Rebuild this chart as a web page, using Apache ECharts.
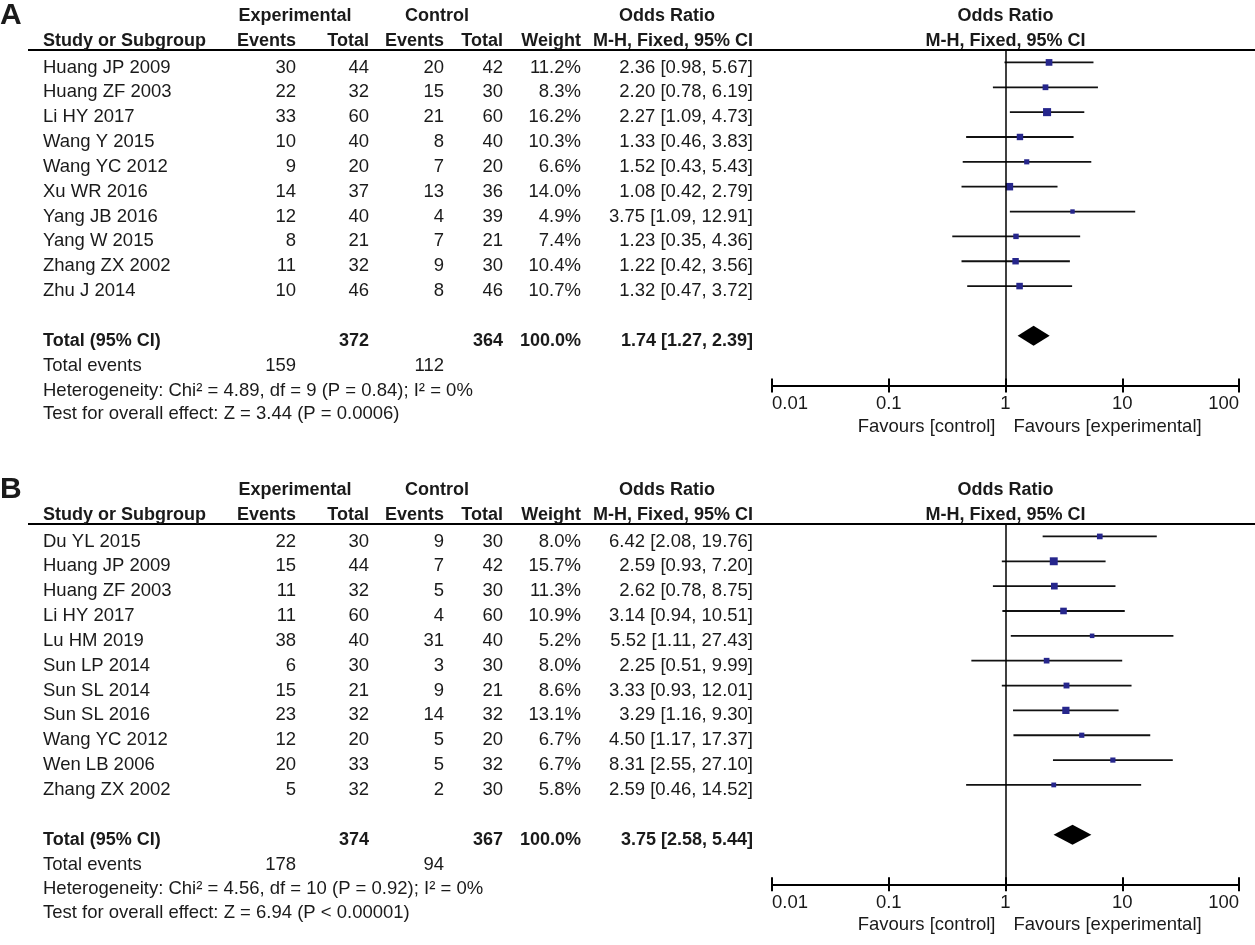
<!DOCTYPE html>
<html lang="en">
<head>
<meta charset="UTF-8">
<title>Forest plot</title>
<script src="https://cdn.jsdelivr.net/npm/echarts@6/dist/echarts.min.js"></script>
<style>html, body { margin: 0; padding: 0; background: #fff; }</style>
</head>
<body>
<div id="main" style="width:1255px;height:945px;"></div>
<script>
// ---- panel A data ----
var studiesA = ['Huang JP 2009', 'Huang ZF 2003', 'Li HY 2017', 'Wang Y 2015', 'Wang YC 2012',
    'Xu WR 2016', 'Yang JB 2016', 'Yang W 2015', 'Zhang ZX 2002', 'Zhu J 2014'];
var expEventsA = [30, 22, 33, 10, 9, 14, 12, 8, 11, 10];
var expTotalA = [44, 32, 60, 40, 20, 37, 40, 21, 32, 46];
var ctlEventsA = [20, 15, 21, 8, 7, 13, 4, 7, 9, 8];
var ctlTotalA = [42, 30, 60, 40, 20, 36, 39, 21, 30, 46];
var weightA = [11.2, 8.3, 16.2, 10.3, 6.6, 14.0, 4.9, 7.4, 10.4, 10.7];
var orA = [2.36, 2.20, 2.27, 1.33, 1.52, 1.08, 3.75, 1.23, 1.22, 1.32];
var lowA = [0.98, 0.78, 1.09, 0.46, 0.43, 0.42, 1.09, 0.35, 0.42, 0.47];
var highA = [5.67, 6.19, 4.73, 3.83, 5.43, 2.79, 12.91, 4.36, 3.56, 3.72];
var pooledA = [1.74, 1.27, 2.39];
var totalNA = [372, 364];
var totalEventsA = [159, 112];
var hetA = 'Heterogeneity: Chi\u00b2 = 4.89, df = 9 (P = 0.84); I\u00b2 = 0%';
var testA = 'Test for overall effect: Z = 3.44 (P = 0.0006)';

// ---- panel B data ----
var studiesB = ['Du YL 2015', 'Huang JP 2009', 'Huang ZF 2003', 'Li HY 2017', 'Lu HM 2019', 'Sun LP 2014',
    'Sun SL 2014', 'Sun SL 2016', 'Wang YC 2012', 'Wen LB 2006', 'Zhang ZX 2002'];
var expEventsB = [22, 15, 11, 11, 38, 6, 15, 23, 12, 20, 5];
var expTotalB = [30, 44, 32, 60, 40, 30, 21, 32, 20, 33, 32];
var ctlEventsB = [9, 7, 5, 4, 31, 3, 9, 14, 5, 5, 2];
var ctlTotalB = [30, 42, 30, 60, 40, 30, 21, 32, 20, 32, 30];
var weightB = [8.0, 15.7, 11.3, 10.9, 5.2, 8.0, 8.6, 13.1, 6.7, 6.7, 5.8];
var orB = [6.42, 2.59, 2.62, 3.14, 5.52, 2.25, 3.33, 3.29, 4.50, 8.31, 2.59];
var lowB = [2.08, 0.93, 0.78, 0.94, 1.11, 0.51, 0.93, 1.16, 1.17, 2.55, 0.46];
var highB = [19.76, 7.20, 8.75, 10.51, 27.43, 9.99, 12.01, 9.30, 17.37, 27.10, 14.52];
var pooledB = [3.75, 2.58, 5.44];
var totalNB = [374, 367];
var totalEventsB = [178, 94];
var hetB = 'Heterogeneity: Chi\u00b2 = 4.56, df = 10 (P = 0.92); I\u00b2 = 0%';
var testB = 'Test for overall effect: Z = 6.94 (P < 0.00001)';

// ---- layout ----
var FONT = "'Liberation Sans', Arial, sans-serif";
var INK = '#1a1a1a';
var ROWH = 24.85;
var COL = { name: 43, expEv: 296, expTot: 369, ctlEv: 444, ctlTot: 503, weight: 581, ci: 753 };

function fmtCI(o, l, h) {
    return o.toFixed(2) + ' [' + l.toFixed(2) + ', ' + h.toFixed(2) + ']';
}

function tableRows(p) {
    var n = p.studies.length;
    var rows = [];
    rows.push({ row: -2, dy: 3, cells: [
        { t: p.label, x: 0, a: 'left', b: true, s: 30 },
        { t: 'Experimental', x: 295, a: 'center', b: true },
        { t: 'Control', x: 437, a: 'center', b: true },
        { t: 'Odds Ratio', x: 667, a: 'center', b: true },
        { t: 'Odds Ratio', x: 'null', a: 'center', b: true }
    ] });
    rows.push({ row: -1, dy: 3, cells: [
        { t: 'Study or Subgroup', x: COL.name, a: 'left', b: true },
        { t: 'Events', x: COL.expEv, a: 'right', b: true },
        { t: 'Total', x: COL.expTot, a: 'right', b: true },
        { t: 'Events', x: COL.ctlEv, a: 'right', b: true },
        { t: 'Total', x: COL.ctlTot, a: 'right', b: true },
        { t: 'Weight', x: COL.weight, a: 'right', b: true },
        { t: 'M-H, Fixed, 95% CI', x: COL.ci, a: 'right', b: true },
        { t: 'M-H, Fixed, 95% CI', x: 'null', a: 'center', b: true }
    ] });
    for (var i = 0; i < n; i++) {
        rows.push({ row: i, dy: 5, cells: [
            { t: p.studies[i], x: COL.name, a: 'left' },
            { t: String(p.expEv[i]), x: COL.expEv, a: 'right' },
            { t: String(p.expTot[i]), x: COL.expTot, a: 'right' },
            { t: String(p.ctlEv[i]), x: COL.ctlEv, a: 'right' },
            { t: String(p.ctlTot[i]), x: COL.ctlTot, a: 'right' },
            { t: p.weight[i].toFixed(1) + '%', x: COL.weight, a: 'right' },
            { t: fmtCI(p.or[i], p.low[i], p.high[i]), x: COL.ci, a: 'right' }
        ] });
    }
    rows.push({ row: n + 1, dy: 5, cells: [
        { t: 'Total (95% CI)', x: COL.name, a: 'left', b: true },
        { t: String(p.totalN[0]), x: COL.expTot, a: 'right', b: true },
        { t: String(p.totalN[1]), x: COL.ctlTot, a: 'right', b: true },
        { t: '100.0%', x: COL.weight, a: 'right', b: true },
        { t: fmtCI(p.pooled[0], p.pooled[1], p.pooled[2]), x: COL.ci, a: 'right', b: true }
    ] });
    rows.push({ row: n + 2, dy: 5, cells: [
        { t: 'Total events', x: COL.name, a: 'left' },
        { t: String(p.totalEvents[0]), x: COL.expEv, a: 'right' },
        { t: String(p.totalEvents[1]), x: COL.ctlEv, a: 'right' }
    ] });
    rows.push({ row: n + 3, dy: 5, cells: [{ t: p.het, x: COL.name, a: 'left' }] });
    rows.push({ row: n + 3.93, dy: 5, cells: [{ t: p.test, x: COL.name, a: 'left' }] });
    rows.push({ row: n + 3, dy: 41, cells: [
        { t: 'Favours [control]', x: 'nullL', a: 'right' },
        { t: 'Favours [experimental]', x: 'nullR', a: 'left' }
    ] });
    return rows;
}

function buildPanel(p, gi) {
    var n = p.studies.length;
    var axisRow = n + 3;
    var rows = tableRows(p);
    var grid = { left: 772, width: 467, top: p.lineY, height: (axisRow + 0.5) * ROWH, containLabel: false };
    var xMain = {
        type: 'log', logBase: 10, min: 0.01, max: 100, gridIndex: gi, position: 'bottom',
        axisLine: { show: true, onZero: false, lineStyle: { color: '#000', width: 2 } },
        axisTick: { show: true, inside: false, length: 7, lineStyle: { color: '#000', width: 2 } },
        axisLabel: {
            show: true, margin: 9, color: INK, fontSize: 18.5, fontFamily: FONT,
            alignMinLabel: 'left', alignMaxLabel: 'right',
            formatter: function (v) { return String(+(+v).toPrecision(6)); }
        },
        splitLine: { show: false }
    };
    var xInner = {
        type: 'log', logBase: 10, min: 0.01, max: 100, gridIndex: gi, position: 'bottom',
        axisLine: { show: false, onZero: false },
        axisTick: { show: true, inside: true, length: 7, lineStyle: { color: '#000', width: 2 } },
        axisLabel: { show: false },
        splitLine: { show: false }
    };
    var yAxis = { type: 'value', inverse: true, min: -0.5, max: axisRow, gridIndex: gi, show: false };
    var xi = gi * 2;

    var ciData = p.studies.map(function (s, i) { return [p.or[i], p.low[i], p.high[i], p.weight[i], i]; });

    var series = [];
    // study estimates with confidence intervals
    series.push({
        type: 'custom', xAxisIndex: xi, yAxisIndex: gi, silent: true,
        encode: { x: [0, 1, 2], y: 4 },
        data: ciData,
        renderItem: function (params, api) {
            var r = api.value(4);
            var a = api.coord([api.value(1), r]);
            var b = api.coord([api.value(2), r]);
            var c = api.coord([api.value(0), r]);
            var side = 2 * Math.sqrt(api.value(3));
            return {
                type: 'group',
                children: [
                    { type: 'line', shape: { x1: a[0], y1: a[1], x2: b[0], y2: b[1] },
                      style: { stroke: '#111', lineWidth: 1.8 } },
                    { type: 'rect', shape: { x: c[0] - side / 2, y: c[1] - side / 2, width: side, height: side },
                      style: { fill: '#26268c' } }
                ]
            };
        },
        markLine: {
            silent: true, symbol: 'none', label: { show: false },
            lineStyle: { color: '#000', type: 'solid', width: 1.5 },
            data: [{ xAxis: 1 }]
        }
    });
    // pooled diamond
    series.push({
        type: 'custom', xAxisIndex: xi, yAxisIndex: gi, silent: true,
        encode: { x: [0, 1, 2], y: 3 },
        data: [[p.pooled[0], p.pooled[1], p.pooled[2], n + 1]],
        renderItem: function (params, api) {
            var r = api.value(3);
            var l = api.coord([api.value(1), r]);
            var m = api.coord([api.value(0), r]);
            var h = api.coord([api.value(2), r]);
            var hh = 10;
            return { type: 'polygon',
                shape: { points: [[l[0], l[1]], [m[0], m[1] - hh], [h[0], h[1]], [m[0], m[1] + hh]] },
                style: { fill: '#000' } };
        }
    });
    // table text and header rule
    series.push({
        type: 'custom', xAxisIndex: xi, yAxisIndex: gi, silent: true,
        encode: { x: 0, y: 1 },
        data: rows.map(function (r) { return [1, r.row]; }),
        renderItem: function (params, api) {
            var r = rows[params.dataIndex];
            var pt = api.coord([1, r.row]);
            var nullX = pt[0];
            var children = r.cells.map(function (c) {
                var x = c.x;
                if (x === 'null') x = nullX;
                else if (x === 'nullL') x = nullX - 10;
                else if (x === 'nullR') x = nullX + 8;
                return {
                    type: 'text', x: x, y: pt[1] + r.dy,
                    style: {
                        text: c.t, align: c.a, verticalAlign: 'middle', fill: INK,
                        fontFamily: FONT, fontSize: c.s || (c.b ? 18 : 18.5), fontWeight: c.b ? 'bold' : 'normal'
                    }
                };
            });
            if (params.dataIndex === 0) {
                var top = api.coord([1, -0.5])[1];
                children.push({ type: 'line', shape: { x1: 28, y1: top, x2: 1255, y2: top },
                    style: { stroke: '#000', lineWidth: 2 } });
            }
            return { type: 'group', children: children };
        }
    });
    return { grid: grid, xAxis: [xMain, xInner], yAxis: yAxis, series: series };
}

var panelA = buildPanel({
    label: 'A', lineY: 50, studies: studiesA, expEv: expEventsA, expTot: expTotalA,
    ctlEv: ctlEventsA, ctlTot: ctlTotalA, weight: weightA, or: orA, low: lowA, high: highA,
    pooled: pooledA, totalN: totalNA, totalEvents: totalEventsA, het: hetA, test: testA
}, 0);
var panelB = buildPanel({
    label: 'B', lineY: 524, studies: studiesB, expEv: expEventsB, expTot: expTotalB,
    ctlEv: ctlEventsB, ctlTot: ctlTotalB, weight: weightB, or: orB, low: lowB, high: highB,
    pooled: pooledB, totalN: totalNB, totalEvents: totalEventsB, het: hetB, test: testB
}, 1);

var myChart = echarts.init(document.getElementById('main'), null, { renderer: 'canvas' });
myChart.setOption({
    backgroundColor: '#fff',
    animation: false,
    grid: [panelA.grid, panelB.grid],
    xAxis: panelA.xAxis.concat(panelB.xAxis),
    yAxis: [panelA.yAxis, panelB.yAxis],
    series: panelA.series.concat(panelB.series)
});
</script>
</body>
</html>
